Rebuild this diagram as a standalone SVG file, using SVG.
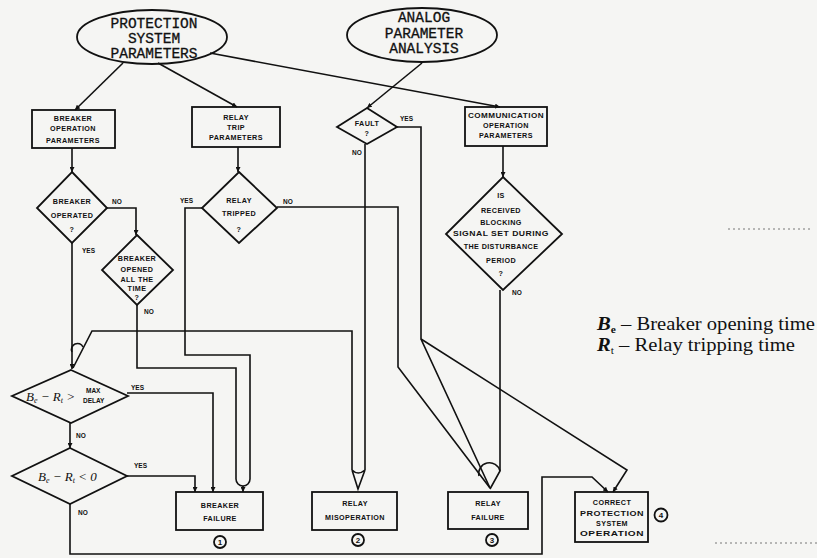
<svg xmlns="http://www.w3.org/2000/svg" width="817" height="558" viewBox="0 0 817 558">
<defs>
<marker id="ah" viewBox="0 0 10 10" refX="10" refY="5" markerWidth="5" markerHeight="5" orient="auto" markerUnits="userSpaceOnUse">
<path d="M0,0 L10,5 L0,10 z" fill="#111"/>
</marker>
</defs>
<style>
.bg{fill:#f5f5f3}
.sh{fill:none;stroke:#111;stroke-width:1.8}
.ln{fill:none;stroke:#111;stroke-width:1.6;stroke-linejoin:miter}
.el{font-family:"Liberation Mono",monospace;font-size:14.5px;fill:#111;text-anchor:middle;stroke:#111;stroke-width:0.3}
.t{font-family:"Liberation Sans",Arial,sans-serif;font-weight:bold;font-size:7.2px;letter-spacing:0.4px;fill:#111;text-anchor:middle}
.lb{font-family:"Liberation Sans",Arial,sans-serif;font-weight:bold;font-size:6.5px;fill:#111}
.m{font-family:"Liberation Serif","Times New Roman",serif;font-style:italic;fill:#111}
.lg{font-family:"Liberation Serif","Times New Roman",serif;font-size:18px;fill:#111}
.num{font-family:"Liberation Sans",Arial,sans-serif;font-weight:bold;font-size:8px;fill:#111;text-anchor:middle}
.dot{stroke:#777;stroke-width:1;stroke-dasharray:2 3;fill:none}
</style>
<rect class="bg" x="0" y="0" width="817" height="558"/>

<g id="connectors">
<line class="ln" x1="123" y1="63" x2="75" y2="110" marker-end="url(#ah)"/>
<line class="ln" x1="158" y1="63" x2="237" y2="107" marker-end="url(#ah)"/>
<line class="ln" x1="210" y1="53" x2="500" y2="107" marker-end="url(#ah)"/>
<line class="ln" x1="422" y1="63" x2="367" y2="108" marker-end="url(#ah)"/>
<line class="ln" x1="72" y1="148" x2="72" y2="172" marker-end="url(#ah)"/>
<line class="ln" x1="238" y1="147" x2="238" y2="172" marker-end="url(#ah)"/>
<line class="ln" x1="503" y1="146" x2="503" y2="177" marker-end="url(#ah)"/>
<polyline class="ln" points="107,208 136,208 136,235" marker-end="url(#ah)"/>
<line class="ln" x1="72" y1="243" x2="72" y2="369" marker-end="url(#ah)"/>
<path class="ln" d="M72,352 A6,6 0 0 1 83,347"/>
<polyline class="ln" points="352,470 352,331 92,331 73,368"/>
<polyline class="ln" points="137,305 137,368 236,368 236,479"/>
<polyline class="ln" points="202,208 185,208 185,355 250,355 250,479"/>
<path class="ln" d="M236,479 A7,7 0 0 0 250,479"/>
<line class="ln" x1="243" y1="486" x2="243" y2="492" marker-end="url(#ah)"/>
<polyline class="ln" points="277,207 398,207 398,367 490,488"/>
<polyline class="ln" points="397,127 421,127 421,339 490,488"/>
<polyline class="ln" points="421,339 627,470 613,492" marker-end="url(#ah)"/>
<line class="ln" x1="365" y1="144" x2="365" y2="470"/>
<path class="ln" d="M352,470 Q358,476 365,470 M352,470 L358,489 L365,470"/>
<polyline class="ln" points="500,290 500,471 490,489"/>
<path class="ln" d="M479,476 A10,10 0 0 1 500,471"/>
<polyline class="ln" points="127,393 213,393 213,492" marker-end="url(#ah)"/>
<line class="ln" x1="70" y1="423" x2="70" y2="448" marker-end="url(#ah)"/>
<polyline class="ln" points="125,476 195,476 195,492" marker-end="url(#ah)"/>
<polyline class="ln" points="70,504 70,554 542,554 542,477 592,477 608,492" marker-end="url(#ah)"/>
<text class="lb" x="400" y="121">YES</text>
<text class="lb" x="352" y="155">NO</text>
<text class="lb" x="112" y="204">NO</text>
<text class="lb" x="82" y="253">YES</text>
<text class="lb" x="144" y="314">NO</text>
<text class="lb" x="180" y="203">YES</text>
<text class="lb" x="283" y="204">NO</text>
<text class="lb" x="512" y="295">NO</text>
<text class="lb" x="131" y="390">YES</text>
<text class="lb" x="76" y="438">NO</text>
<text class="lb" x="134" y="468">YES</text>
<text class="lb" x="78" y="515">NO</text>
</g>

<g id="protection-system-parameters">
<ellipse class="sh" cx="152" cy="37" rx="75" ry="27"/>
<text class="el" x="154" y="28">PROTECTION</text>
<text class="el" x="154" y="43">SYSTEM</text>
<text class="el" x="154" y="58">PARAMETERS</text>
</g>
<g id="analog-parameter-analysis">
<ellipse class="sh" cx="422" cy="35" rx="75" ry="27"/>
<text class="el" x="424" y="22">ANALOG</text>
<text class="el" x="424" y="38">PARAMETER</text>
<text class="el" x="424" y="53">ANALYSIS</text>
</g>
<g id="breaker-operation-parameters">
<rect class="sh" x="32" y="110" width="83" height="38"/>
<text class="t" x="73" y="121">BREAKER</text>
<text class="t" x="73" y="131">OPERATION</text>
<text class="t" x="73" y="143">PARAMETERS</text>
</g>
<g id="relay-trip-parameters">
<rect class="sh" x="192" y="107" width="88" height="40"/>
<text class="t" x="236" y="120">RELAY</text>
<text class="t" x="236" y="130">TRIP</text>
<text class="t" x="236" y="140">PARAMETERS</text>
</g>
<g id="communication-operation-parameters">
<rect class="sh" x="465" y="107" width="82" height="39"/>
<text class="t" x="506" y="118" textLength="76" lengthAdjust="spacingAndGlyphs">COMMUNICATION</text>
<text class="t" x="506" y="128">OPERATION</text>
<text class="t" x="506" y="138">PARAMETERS</text>
</g>
<g id="fault">
<polygon class="sh" points="367,108 397,127 367,144 337,127"/>
<text class="t" x="367" y="126">FAULT</text>
<text class="t" x="367" y="136">?</text>
</g>
<g id="breaker-operated">
<polygon class="sh" points="72,172 107,208 72,243 37,208"/>
<text class="t" x="72" y="204">BREAKER</text>
<text class="t" x="72" y="218">OPERATED</text>
<text class="t" x="72" y="232">?</text>
</g>
<g id="relay-tripped">
<polygon class="sh" points="239,172 277,208 239,243 202,208"/>
<text class="t" x="239" y="203">RELAY</text>
<text class="t" x="239" y="216">TRIPPED</text>
<text class="t" x="239" y="232">?</text>
</g>
<g id="breaker-opened">
<polygon class="sh" points="137,235 173,270 137,305 102,270"/>
<text class="t" x="137" y="261">BREAKER</text>
<text class="t" x="137" y="272">OPENED</text>
<text class="t" x="137" y="282">ALL THE</text>
<text class="t" x="137" y="291">TIME</text>
<text class="t" x="137" y="300">?</text>
</g>
<g id="blocking-signal">
<polygon class="sh" points="503,177 562,234 503,290 446,234"/>
<text class="t" x="501" y="198">IS</text>
<text class="t" x="501" y="213">RECEIVED</text>
<text class="t" x="501" y="225">BLOCKING</text>
<text class="t" x="501" y="236" textLength="96" lengthAdjust="spacingAndGlyphs">SIGNAL SET DURING</text>
<text class="t" x="501" y="249">THE DISTURBANCE</text>
<text class="t" x="501" y="263">PERIOD</text>
<text class="t" x="501" y="276">?</text>
</g>
<g id="be-rt-max-delay">
<polygon class="sh" points="71,370 128,396 71,423 12,396"/>
<text class="m" x="26" y="401" font-size="13">B<tspan font-size="8" dy="2">e</tspan><tspan dy="-2"> −</tspan> R<tspan font-size="8" dy="2">t</tspan><tspan dy="-2"> &gt;</tspan></text>
<text class="lb" x="86" y="393" font-size="5.5">MAX</text>
<text class="lb" x="83" y="403" font-size="5.5">DELAY</text>
</g>
<g id="be-rt-less-zero">
<polygon class="sh" points="70,448 127,476 70,504 12,476"/>
<text class="m" x="38" y="481" font-size="13">B<tspan font-size="8" dy="2">e</tspan><tspan dy="-2"> −</tspan> R<tspan font-size="8" dy="2">t</tspan><tspan dy="-2"> &lt; 0</tspan></text>
</g>
<g id="breaker-failure">
<rect class="sh" x="176" y="492" width="87" height="38"/>
<text class="t" x="220" y="508">BREAKER</text>
<text class="t" x="220" y="521">FAILURE</text>
<circle class="sh" cx="220" cy="542" r="6" stroke-width="1.3"/>
<text class="num" x="220" y="545">1</text>
</g>
<g id="relay-misoperation">
<rect class="sh" x="312" y="492" width="85" height="38"/>
<text class="t" x="355" y="506">RELAY</text>
<text class="t" x="355" y="520">MISOPERATION</text>
<circle class="sh" cx="358" cy="540" r="6" stroke-width="1.3"/>
<text class="num" x="358" y="543">2</text>
</g>
<g id="relay-failure">
<rect class="sh" x="448" y="492" width="80" height="37"/>
<text class="t" x="488" y="506">RELAY</text>
<text class="t" x="488" y="520">FAILURE</text>
<circle class="sh" cx="492" cy="540" r="6" stroke-width="1.3"/>
<text class="num" x="492" y="543">3</text>
</g>
<g id="correct-protection">
<rect class="sh" x="575" y="492" width="73" height="50"/>
<text class="t" x="612" y="505">CORRECT</text>
<text class="t" x="612" y="516" textLength="64" lengthAdjust="spacingAndGlyphs">PROTECTION</text>
<text class="t" x="612" y="526">SYSTEM</text>
<text class="t" x="612" y="536" textLength="64" lengthAdjust="spacingAndGlyphs">OPERATION</text>
<circle class="sh" cx="661" cy="515" r="6.5" stroke-width="1.3"/>
<text class="num" x="661" y="518">4</text>
</g>

<g id="legend">
<text class="lg" x="597" y="330" textLength="218" lengthAdjust="spacingAndGlyphs"><tspan font-style="italic" font-weight="bold">B</tspan><tspan font-size="10" dy="3" font-weight="bold">e</tspan><tspan dy="-3"> – Breaker opening time</tspan></text>
<text class="lg" x="597" y="351" textLength="198" lengthAdjust="spacingAndGlyphs"><tspan font-style="italic" font-weight="bold">R</tspan><tspan font-size="10" dy="3">t</tspan><tspan dy="-3"> – Relay tripping time</tspan></text>
</g>
<line class="dot" x1="728" y1="229" x2="812" y2="229"/>
<line class="dot" x1="715" y1="543" x2="817" y2="543"/>
</svg>
